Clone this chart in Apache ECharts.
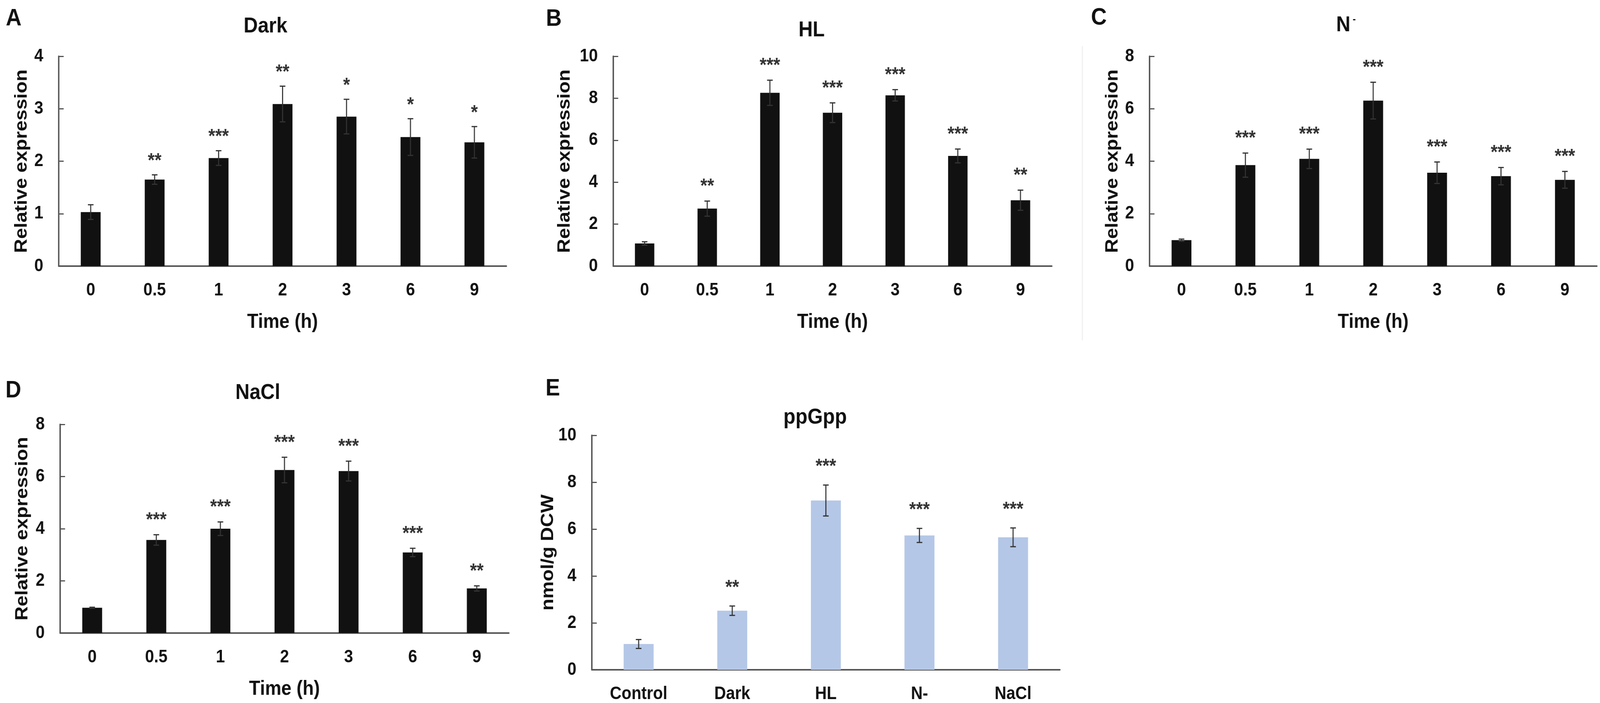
<!DOCTYPE html>
<html>
<head>
<meta charset="utf-8">
<script src="https://cdn.jsdelivr.net/npm/echarts@6/dist/echarts.min.js"></script>
<style>
html,body{margin:0;padding:0;background:#fff;overflow:hidden;}
#main{width:4550px;height:1799px;transform-origin:0 0;}
</style>
</head>
<body>
<div id="main"></div>
<script>
// ---- data ----
var timeCats = ['0', '0.5', '1', '2', '3', '6', '9'];
var darkMean = [1.03, 1.65, 2.06, 3.09, 2.85, 2.46, 2.36];
var darkErr  = [0.14, 0.09, 0.14, 0.34, 0.33, 0.35, 0.30];
var darkSig  = ['', '**', '***', '**', '*', '*', '*'];
var hlMean = [1.08, 2.74, 8.26, 7.31, 8.14, 5.25, 3.14];
var hlErr  = [0.08, 0.36, 0.60, 0.47, 0.27, 0.33, 0.48];
var hlSig  = ['', '**', '***', '***', '***', '***', '**'];
var nMean = [0.99, 3.85, 4.09, 6.31, 3.56, 3.43, 3.29];
var nErr  = [0.04, 0.46, 0.37, 0.70, 0.41, 0.33, 0.32];
var nSig  = ['', '***', '***', '***', '***', '***', '***'];
var naclMean = [0.97, 3.57, 4.00, 6.25, 6.21, 3.09, 1.71];
var naclErr  = [0.02, 0.20, 0.26, 0.49, 0.38, 0.16, 0.10];
var naclSig  = ['', '***', '***', '***', '***', '***', '**'];
var ppCats = ['Control', 'Dark', 'HL', 'N-', 'NaCl'];
var ppMean = [1.10, 2.52, 7.22, 5.73, 5.65];
var ppErr  = [0.19, 0.20, 0.66, 0.30, 0.40];
var ppSig  = ['', '**', '***', '***', '***'];

var yTicksA = {min: 0, max: 4, interval: 1};
var yTicksB = {min: 0, max: 10, interval: 2};
var yTicksC = {min: 0, max: 8, interval: 2};
var yTicksD = {min: 0, max: 8, interval: 2};
var yTicksE = {min: 0, max: 10, interval: 2};

// ---- fit the 4550x1799 figure into the actual window ----
var W = 4550, H = 1799;
var mainEl = document.getElementById('main');
var sx = (window.innerWidth || W) / W, sy = (window.innerHeight || H) / H;
if (Math.abs(sx - 1) > 0.001 || Math.abs(sy - 1) > 0.001) {
  mainEl.style.transform = 'scale(' + sx + ',' + sy + ')';
}

// ---- styling ----
var FONT = '"Liberation Sans", Arial, sans-serif';
var AXIS_COLOR = '#555';

var chart = echarts.init(mainEl, null, {renderer: 'canvas', width: W, height: H});

var panels = [
  {cats: timeCats, mean: darkMean, err: darkErr, sig: darkSig, ticks: yTicksA, grid: {left: 167, top: 144, width: 1273, height: 537}, yName: 'Relative expression', yGap: 80, xName: 'Time (h)', color: '#111', starGap: 34, bw: '31%'},
  {cats: timeCats, mean: hlMean, err: hlErr, sig: hlSig, ticks: yTicksB, grid: {left: 1744, top: 144, width: 1247, height: 537}, yName: 'Relative expression', yGap: 113, xName: 'Time (h)', color: '#111', starGap: 36, bw: '31%'},
  {cats: timeCats, mean: nMean, err: nErr, sig: nSig, ticks: yTicksC, grid: {left: 3269, top: 144, width: 1272, height: 537}, yName: 'Relative expression', yGap: 80, xName: 'Time (h)', color: '#111', starGap: 36, bw: '31%'},
  {cats: timeCats, mean: naclMean, err: naclErr, sig: naclSig, ticks: yTicksD, grid: {left: 171, top: 1086, width: 1276, height: 534}, yName: 'Relative expression', yGap: 82, xName: 'Time (h)', color: '#111', starGap: 36, bw: '31%'},
  {cats: ppCats, mean: ppMean, err: ppErr, sig: ppSig, ticks: yTicksE, grid: {left: 1683, top: 1114, width: 1331, height: 602}, yName: 'nmol/g DCW', yGap: 96, xName: '', color: '#B4C7E7', starGap: 46, bw: '32%'}
];

var grids = [], xAxes = [], yAxes = [], series = [];

panels.forEach(function (p, k) {
  grids.push({left: p.grid.left, top: p.grid.top, width: p.grid.width, height: p.grid.height, containLabel: false});
  xAxes.push({
    type: 'category', gridIndex: k, data: p.cats, boundaryGap: true,
    axisLine: {lineStyle: {color: AXIS_COLOR, width: 4}},
    axisTick: {inside: true, length: 14, lineStyle: {color: AXIS_COLOR, width: 3}},
    axisLabel: {margin: 39, fontFamily: FONT, fontWeight: 'bold', fontSize: 46, color: '#111'},
    name: p.xName, nameLocation: 'middle', nameGap: 118,
    nameTextStyle: {fontFamily: FONT, fontWeight: 'bold', fontSize: 52, color: '#111'}
  });
  yAxes.push({
    type: 'value', gridIndex: k, min: p.ticks.min, max: p.ticks.max, interval: p.ticks.interval,
    splitLine: {show: false},
    axisLine: {show: true, lineStyle: {color: AXIS_COLOR, width: 4}},
    axisTick: {show: true, inside: true, length: 14, lineStyle: {color: AXIS_COLOR, width: 3}},
    axisLabel: {margin: 44, fontFamily: FONT, fontWeight: 'bold', fontSize: 46, color: '#111'},
    name: p.yName, nameLocation: 'middle', nameGap: p.yGap, nameRotate: 90,
    nameTextStyle: {fontFamily: FONT, fontWeight: 'bold', fontSize: 50, color: '#111'}
  });
  series.push({
    type: 'bar', xAxisIndex: k, yAxisIndex: k, barWidth: p.bw,
    itemStyle: {color: p.color},
    data: p.mean.slice(),
    silent: true, animation: false
  });
  var errData = p.mean.map(function (m, i) { return [i, m, p.err[i]]; });
  series.push({
    type: 'custom', xAxisIndex: k, yAxisIndex: k, clip: false, animation: false, silent: true,
    data: errData,
    z: 5,
    renderItem: (function (pp) {
      return function (params, api) {
        var i = api.value(0), m = api.value(1), e = api.value(2);
        var top = api.coord([i, m + e]);
        var bot = api.coord([i, m - e]);
        var cap = 8;
        var ls = {stroke: '#333', lineWidth: 3};
        var ch = [
          {type: 'line', shape: {x1: top[0], y1: top[1], x2: bot[0], y2: bot[1]}, style: ls},
          {type: 'line', shape: {x1: top[0] - cap, y1: top[1], x2: top[0] + cap, y2: top[1]}, style: ls},
          {type: 'line', shape: {x1: bot[0] - cap, y1: bot[1], x2: bot[0] + cap, y2: bot[1]}, style: ls}
        ];
        var s = pp.sig[params.dataIndex];
        if (s) {
          ch.push({type: 'text', style: {text: s, x: top[0], y: top[1] - pp.starGap, align: 'center', verticalAlign: 'middle',
            textAlign: 'center', textVerticalAlign: 'middle',
            fontFamily: FONT, fontWeight: 'bold', fontSize: 50, fill: '#333'}});
        }
        return {type: 'group', children: ch};
      };
    })(p)
  });
});

function txt(t, x, y, size) {
  return {type: 'text', x: x, y: y, silent: true,
    style: {text: t, align: 'center', verticalAlign: 'middle', textAlign: 'center', textVerticalAlign: 'middle',
      fontFamily: FONT, fontWeight: 'bold', fontSize: size, fill: '#111'}};
}

var graphics = [
  {type: 'line', silent: true, shape: {x1: 3078, y1: 118, x2: 3078, y2: 871}, style: {stroke: '#f0f0f0', lineWidth: 3}},
  txt('A', 39, 48, 62), txt('B', 1575, 49, 62), txt('C', 3125, 46, 62),
  txt('D', 38, 1000, 62), txt('E', 1572, 995, 62),
  txt('Dark', 755, 68, 56), txt('HL', 2308, 78, 56),
  txt('N', 3820, 65, 56), txt('-', 3851, 50, 26),
  txt('NaCl', 733, 1006, 56), txt('ppGpp', 2318, 1069, 56)
];

chart.setOption({
  backgroundColor: '#fff',
  animation: false,
  grid: grids,
  xAxis: xAxes,
  yAxis: yAxes,
  series: series,
  graphic: graphics
});
</script>
</body>
</html>
